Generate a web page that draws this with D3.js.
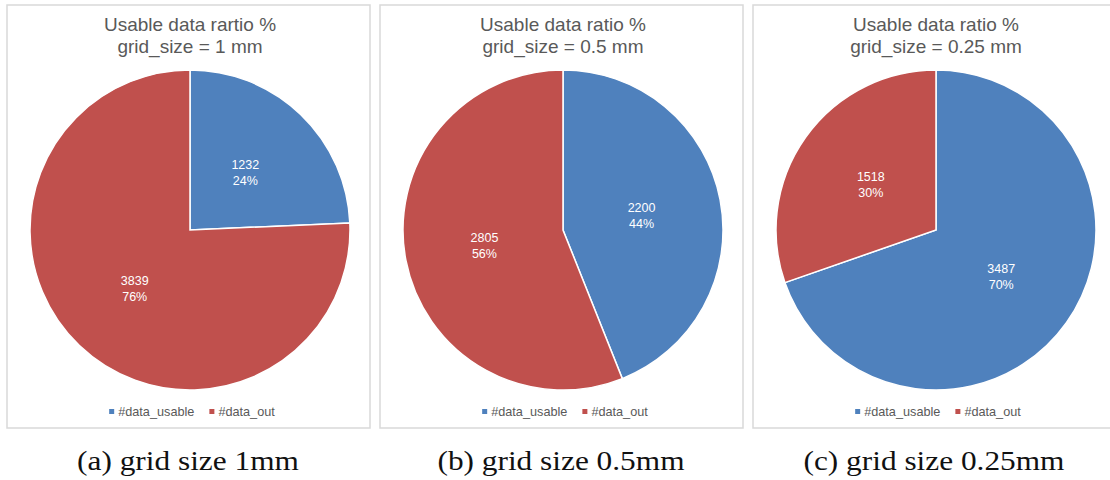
<!DOCTYPE html>
<html>
<head>
<meta charset="utf-8">
<script src="https://cdn.jsdelivr.net/npm/d3@7"></script>
<style>
  body { margin: 0; background: #fff; }
  .title { font-family: "Liberation Sans", Arial, sans-serif; font-size: 19px; fill: #595959; text-anchor: middle; }
  .slice-label { font-family: "Liberation Sans", Arial, sans-serif; font-size: 12.5px; fill: #fff; text-anchor: middle; }
  .legend-text { font-family: "Liberation Sans", Arial, sans-serif; font-size: 12.7px; fill: #595959; }
  .caption { font-family: "Liberation Serif", "Times New Roman", serif; font-size: 27px; fill: #111; text-anchor: middle; }
</style>
</head>
<body>
<div id="chart"></div>
<script>
//////////////////////////////////////////////////////////////
//////////////////////////// Data ////////////////////////////
//////////////////////////////////////////////////////////////

var titleLines = ["Usable data rartio %", "Usable data ratio %", "Usable data ratio %"];
var gridLines = ["grid_size = 1 mm", "grid_size = 0.5 mm", "grid_size = 0.25 mm"];
var categories = ["#data_usable", "#data_out"];
var usableCounts = [1232, 2200, 3487];
var outCounts = [3839, 2805, 1518];
var captions = ["(a) grid size 1mm", "(b) grid size 0.5mm", "(c) grid size 0.25mm"];

var colors = d3.scaleOrdinal().domain(categories).range(["#4F81BD", "#C0504D"]);

//////////////////////////////////////////////////////////////
/////////////////////////// Layout ///////////////////////////
//////////////////////////////////////////////////////////////

var width = 1110, height = 480;
var panelLeft = [7, 380, 753];
var panelWidth = 363;
var panelTop = 5, panelBottom = 428;
var radius = 160;
var pieY = 230;

var svg = d3.select("#chart").append("svg")
  .attr("width", width)
  .attr("height", height);

var pie = d3.pie().sort(null).value(function(d) { return d.value; });
var arc = d3.arc().innerRadius(0).outerRadius(radius);
var labelArc = d3.arc().innerRadius(radius * 0.5).outerRadius(radius * 0.5);
var pct = d3.format(".0%");

usableCounts.forEach(function(u, i) {
  var data = [
    {cat: categories[0], value: u},
    {cat: categories[1], value: outCounts[i]}
  ];
  var total = d3.sum(data, function(d) { return d.value; });
  var cx = panelLeft[i] + panelWidth / 2 + 1.5;

  var g = svg.append("g");

  //Chart area border
  g.append("rect")
    .attr("x", panelLeft[i])
    .attr("y", panelTop)
    .attr("width", panelWidth)
    .attr("height", panelBottom - panelTop)
    .style("fill", "#fff")
    .style("stroke", "#d9d9d9")
    .style("stroke-width", 1.5);

  //Title
  var title = g.append("text").attr("class", "title");
  title.append("tspan").attr("x", cx).attr("y", 31).text(titleLines[i]);
  title.append("tspan").attr("x", cx).attr("y", 53).text(gridLines[i]);

  //Slices
  var pieG = g.append("g").attr("transform", "translate(" + cx + "," + pieY + ")");
  var arcs = pie(data);

  pieG.selectAll(".slice")
    .data(arcs)
    .enter().append("path")
    .attr("class", "slice")
    .attr("d", arc)
    .style("fill", function(d) { return colors(d.data.cat); })
    .style("stroke", "#fff")
    .style("stroke-width", 1.5);

  var labels = pieG.selectAll(".slice-label")
    .data(arcs)
    .enter().append("text")
    .attr("class", "slice-label")
    .attr("transform", function(d) { return "translate(" + labelArc.centroid(d) + ")"; });

  labels.append("tspan").attr("x", 0).attr("y", -3).text(function(d) { return d.data.value; });
  labels.append("tspan").attr("x", 0).attr("y", 13).text(function(d) { return pct(d.data.value / total); });

  //Legend
  var legend = g.append("g").attr("transform", "translate(0,416)");
  var items = legend.selectAll(".legend-item")
    .data(categories)
    .enter().append("g")
    .attr("class", "legend-item");

  items.append("rect")
    .attr("y", -7)
    .attr("width", 5)
    .attr("height", 5)
    .style("fill", function(d) { return colors(d); });

  items.append("text")
    .attr("class", "legend-text")
    .attr("x", 9)
    .text(function(d) { return d; });

  //place items centred under the pie
  var gap = 15, offsets = [], total_w = 0;
  items.each(function(d, j) {
    var w = 9 + d3.select(this).select("text").node().getComputedTextLength();
    offsets.push(total_w);
    total_w += w + (j < categories.length - 1 ? gap : 0);
  });
  items.attr("transform", function(d, j) {
    return "translate(" + (cx + 2 - total_w / 2 + offsets[j]) + ",0)";
  });

  //Caption below the panel
  var cap = svg.append("text")
    .attr("class", "caption")
    .attr("x", cx - 2)
    .attr("y", 470)
    .text(captions[i]);
  var natural = cap.node().getComputedTextLength();
  cap.attr("textLength", natural * 1.16).attr("lengthAdjust", "spacingAndGlyphs");
});
</script>
</body>
</html>
